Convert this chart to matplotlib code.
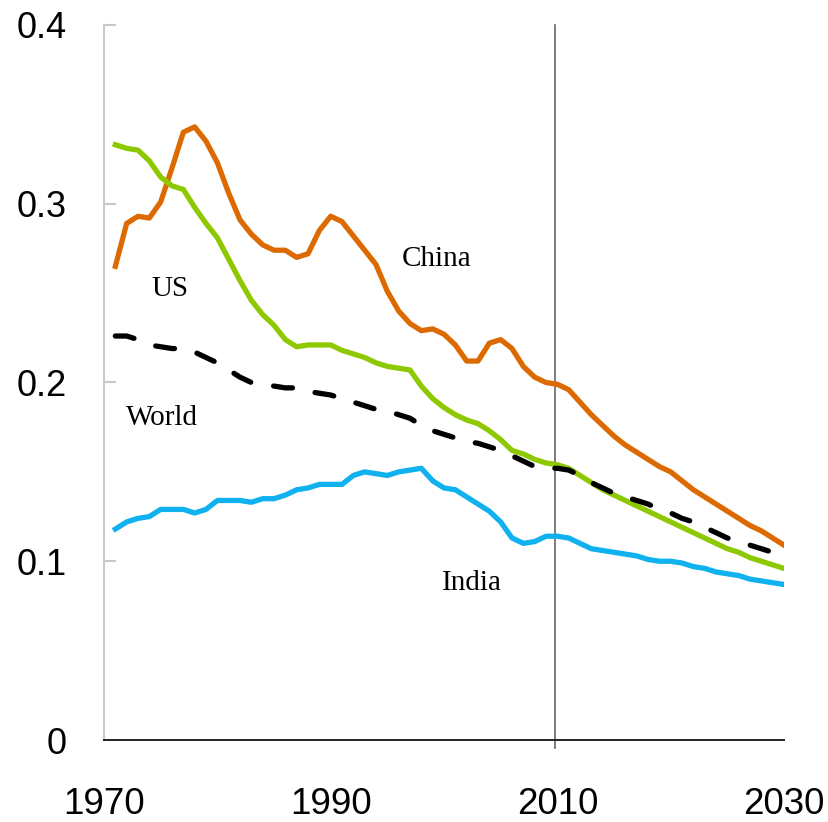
import matplotlib.pyplot as plt

# ------------------------------------------------------------------
#                           Data
# ------------------------------------------------------------------
years = list(range(1971, 2031))

china = [0.265, 0.289, 0.293, 0.292, 0.301, 0.320, 0.340, 0.343, 0.335, 0.323,
         0.306, 0.291, 0.283, 0.277, 0.274, 0.274, 0.270, 0.272, 0.285, 0.293,
         0.290, 0.282, 0.274, 0.266, 0.251, 0.240, 0.233, 0.229, 0.230, 0.227,
         0.221, 0.212, 0.212, 0.222, 0.224, 0.219, 0.209, 0.203, 0.200, 0.199,
         0.196, 0.189, 0.182, 0.176, 0.170, 0.165, 0.161, 0.157, 0.153, 0.150,
         0.145, 0.140, 0.136, 0.132, 0.128, 0.124, 0.120, 0.117, 0.113, 0.109]

us = [0.333, 0.331, 0.330, 0.324, 0.315, 0.310, 0.308, 0.298, 0.289, 0.281,
      0.269, 0.257, 0.246, 0.238, 0.232, 0.224, 0.220, 0.221, 0.221, 0.221,
      0.218, 0.216, 0.214, 0.211, 0.209, 0.208, 0.207, 0.198, 0.191, 0.186,
      0.182, 0.179, 0.177, 0.173, 0.168, 0.162, 0.160, 0.157, 0.155, 0.154,
      0.152, 0.148, 0.144, 0.140, 0.137, 0.134, 0.131, 0.128, 0.125, 0.122,
      0.119, 0.116, 0.113, 0.110, 0.107, 0.105, 0.102, 0.100, 0.098, 0.096]

world = [0.226, 0.226, 0.224, 0.221, 0.220, 0.219, 0.219, 0.217, 0.214, 0.211,
         0.207, 0.203, 0.200, 0.199, 0.198, 0.197, 0.197, 0.195, 0.194, 0.193,
         0.191, 0.189, 0.187, 0.185, 0.184, 0.182, 0.180, 0.176, 0.173, 0.171,
         0.169, 0.167, 0.166, 0.164, 0.162, 0.159, 0.156, 0.153, 0.152, 0.152,
         0.151, 0.148, 0.144, 0.141, 0.138, 0.136, 0.134, 0.132, 0.129, 0.127,
         0.124, 0.122, 0.119, 0.116, 0.113, 0.111, 0.109, 0.107, 0.105, 0.102]

india = [0.118, 0.122, 0.124, 0.125, 0.129, 0.129, 0.129, 0.127, 0.129, 0.134,
         0.134, 0.134, 0.133, 0.135, 0.135, 0.137, 0.140, 0.141, 0.143, 0.143,
         0.143, 0.148, 0.150, 0.149, 0.148, 0.150, 0.151, 0.152, 0.145, 0.141,
         0.140, 0.136, 0.132, 0.128, 0.122, 0.113, 0.110, 0.111, 0.114, 0.114,
         0.113, 0.110, 0.107, 0.106, 0.105, 0.104, 0.103, 0.101, 0.100, 0.100,
         0.099, 0.097, 0.096, 0.094, 0.093, 0.092, 0.090, 0.089, 0.088, 0.087]

x_ticks = [1970, 1990, 2010, 2030]
y_ticks = [0, 0.1, 0.2, 0.3, 0.4]
y_tick_labels = ["0", "0.1", "0.2", "0.3", "0.4"]

# label name, x, y (baseline)
labels = [("China", 1999.35, 0.2654),
          ("US", 1975.8, 0.2486),
          ("World", 1975.1, 0.1760),
          ("India", 2002.5, 0.0838)]

# ------------------------------------------------------------------
#                           Plot
# ------------------------------------------------------------------
fig = plt.figure(figsize=(8.29, 8.22), dpi=100)
ax = fig.add_axes([104 / 829, 82 / 822, 680 / 829, 715 / 822])

ax.plot(years, china, color="#DC6A00", linewidth=3.8, solid_joinstyle="round")
ax.plot(years, us, color="#8DC800", linewidth=3.8, solid_joinstyle="round")
ax.plot(years, india, color="#0FB1EE", linewidth=3.8, solid_joinstyle="round")
ax.plot(years, world, color="black", linewidth=3.8, dashes=(3.6, 4.4),
        dash_capstyle="round")

ax.axvline(2009.75, ymin=-0.011, ymax=1, color="#666666", linewidth=1.2,
           clip_on=False, zorder=1)

ax.set_xlim(1970, 2030)
ax.set_ylim(0, 0.4)

ax.set_xticks(x_ticks)
ax.set_xticklabels([str(t) for t in x_ticks],
                   family=["Liberation Sans Narrow", "Liberation Sans"],
                   fontsize=26.5)
ax.tick_params(axis="x", length=0, pad=34)

ax.set_yticks(y_ticks)
ax.set_yticklabels(y_tick_labels, family=["Liberation Sans", "DejaVu Sans"],
                   fontsize=26)
ax.tick_params(axis="y", direction="in", length=8.6, width=1.5,
               color="#C8C8C8", pad=27)

for side in ["top", "right"]:
    ax.spines[side].set_visible(False)
ax.spines["left"].set_color("#C8C8C8")
ax.spines["left"].set_linewidth(1.5)
ax.spines["bottom"].set_color("#222222")
ax.spines["bottom"].set_linewidth(1.4)
ax.spines["bottom"].set_zorder(3)

for name, lx, ly in labels:
    ax.text(lx, ly, name, ha="center", va="baseline",
            family="Liberation Serif", fontsize=21)

plt.savefig("out.png", dpi=100)
